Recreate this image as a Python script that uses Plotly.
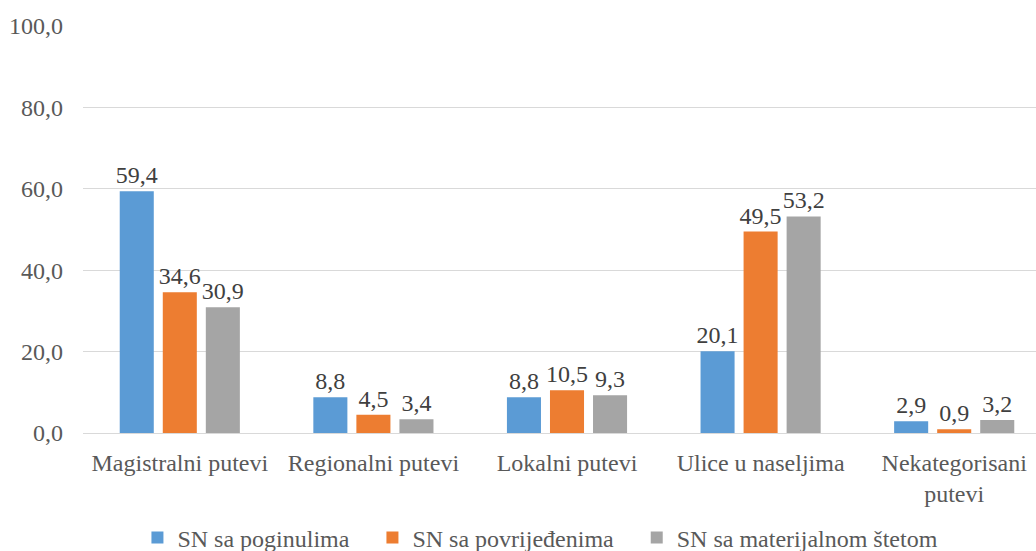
import plotly.graph_objects as go

categories = ["Magistralni putevi", "Regionalni putevi", "Lokalni putevi",
              "Ulice u naseljima", "Nekategorisani<br>putevi"]
series_names = ["SN sa poginulima", "SN sa povrijeđenima", "SN sa materijalnom štetom"]
poginuli = [59.4, 8.8, 8.8, 20.1, 2.9]
povrijedjeni = [34.6, 4.5, 10.5, 49.5, 0.9]
materijalna = [30.9, 3.4, 9.3, 53.2, 3.2]
colors = ["#5B9BD5", "#ED7D31", "#A5A5A5"]
y_ticks = [0, 20, 40, 60, 80, 100]

FONT = "Times New Roman"
FS = 24
PAD = "\u00a0\u00a0\u00a0"

fig = go.Figure()
for i, (name, vals, col) in enumerate(zip(series_names, [poginuli, povrijedjeni, materijalna], colors)):
    fig.add_trace(go.Bar(
        x=categories, y=vals, name=name + (PAD if i < 2 else ""),
        marker=dict(color=col, line=dict(width=0)),
        text=[f"{v:.1f}".replace(".", ",") for v in vals],
        textposition="outside", constraintext="none", cliponaxis=False,
        textfont=dict(family=FONT, size=FS, color="#404040"),
    ))

fig.update_layout(
    width=1036, height=551,
    margin=dict(l=83, r=0, t=26, b=118, autoexpand=False),
    paper_bgcolor="white", plot_bgcolor="white",
    barmode="group", bargap=0.333, bargroupgap=0.209,
    separators=", ",
    font=dict(family=FONT, size=FS, color="#595959"),
    showlegend=True,
    legend=dict(orientation="h", x=0.48, xanchor="center", y=-0.258, yanchor="middle",
                font=dict(family=FONT, size=FS, color="#595959"), traceorder="normal"),
    xaxis=dict(range=[-0.5, 4.4225], showgrid=False, showline=True, linecolor="#D9D9D9",
               linewidth=1, ticks="", automargin=False, ticklabelstandoff=8,
               tickfont=dict(family=FONT, size=FS, color="#595959")),
    yaxis=dict(range=[0, 100], tickvals=y_ticks, tickformat=".1f", showgrid=True,
               gridcolor="#D9D9D9", gridwidth=1, zeroline=False, showline=False, ticks="",
               ticklabelstandoff=19, automargin=False,
               tickfont=dict(family=FONT, size=FS, color="#595959")),
)

fig.write_html("out.html", config={"displayModeBar": False},
               post_script="document.body.style.margin='0';document.body.style.padding='0';")
